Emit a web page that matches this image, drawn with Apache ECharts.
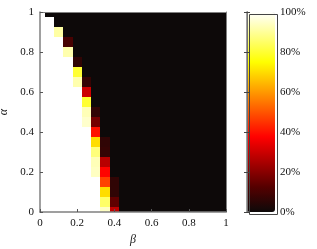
<!DOCTYPE html>
<html><head><meta charset="utf-8">
<script src="https://cdn.jsdelivr.net/npm/echarts@6/dist/echarts.min.js"></script>
<style>html,body{margin:0;padding:0;background:#fff}#c{width:317px;height:249px}</style>
</head><body><div id="c"></div>
<script>
// grid values
const betaValues  = [0,0.05,0.1,0.15,0.2,0.25,0.3,0.35,0.4,0.45,0.5,0.55,0.6,0.65,0.7,0.75,0.8,0.85,0.9,0.95,1];
const alphaValues = [0,0.05,0.1,0.15,0.2,0.25,0.3,0.35,0.4,0.45,0.5,0.55,0.6,0.65,0.7,0.75,0.8,0.85,0.9,0.95,1];
// success rate (%) per alpha row (index = alpha index), columns follow betaValues
const rateRows = [
  [100,100,100,100,100,100,100,94,28,0,0,0,0,0,0,0,0,0,0,0,0],   // α=0
  [100,100,100,100,100,100,100,85,14,0,0,0,0,0,0,0,0,0,0,0,0],   // 0.05
  [100,100,100,100,100,100,100,70,6,0,0,0,0,0,0,0,0,0,0,0,0],    // 0.10
  [100,100,100,100,100,100,100,47,6,0,0,0,0,0,0,0,0,0,0,0,0],    // 0.15
  [100,100,100,100,100,100,94,38,0,0,0,0,0,0,0,0,0,0,0,0,0],     // 0.20
  [100,100,100,100,100,100,93,27,0,0,0,0,0,0,0,0,0,0,0,0,0],     // 0.25
  [100,100,100,100,100,100,87,7,0,0,0,0,0,0,0,0,0,0,0,0,0],      // 0.30
  [100,100,100,100,100,100,70,6,0,0,0,0,0,0,0,0,0,0,0,0,0],      // 0.35
  [100,100,100,100,100,100,40,0,0,0,0,0,0,0,0,0,0,0,0,0,0],      // 0.40
  [100,100,100,100,100,95,17,0,0,0,0,0,0,0,0,0,0,0,0,0,0],       // 0.45
  [100,100,100,100,100,93,6,0,0,0,0,0,0,0,0,0,0,0,0,0,0],        // 0.50
  [100,100,100,100,100,80,0,0,0,0,0,0,0,0,0,0,0,0,0,0,0],        // 0.55
  [100,100,100,100,100,30,0,0,0,0,0,0,0,0,0,0,0,0,0,0,0],        // 0.60
  [100,100,100,100,92,7,0,0,0,0,0,0,0,0,0,0,0,0,0,0,0],          // 0.65
  [100,100,100,100,80,0,0,0,0,0,0,0,0,0,0,0,0,0,0,0,0],          // 0.70
  [100,100,100,100,6,0,0,0,0,0,0,0,0,0,0,0,0,0,0,0,0],           // 0.75
  [100,100,100,92,0,0,0,0,0,0,0,0,0,0,0,0,0,0,0,0,0],            // 0.80
  [100,100,100,10,0,0,0,0,0,0,0,0,0,0,0,0,0,0,0,0,0],            // 0.85
  [100,100,91,0,0,0,0,0,0,0,0,0,0,0,0,0,0,0,0,0,0],              // 0.90
  [100,100,0,0,0,0,0,0,0,0,0,0,0,0,0,0,0,0,0,0,0],               // 0.95
  [100,0,0,0,0,0,0,0,0,0,0,0,0,0,0,0,0,0,0,0,0]                  // 1.00
];
const axisTicks = [0,0.2,0.4,0.6,0.8,1];
const colorbarTicks = [0,20,40,60,80,100];

const hotColors = ['#0d0909','#550000','#aa0000','#ff0000','#ff5500','#ffaa00','#ffff00','#ffff80','#ffffff'];
const FONT = '"Liberation Serif", "DejaVu Serif", serif';

const cells = [];
alphaValues.forEach((a, j) => betaValues.forEach((b, i) => cells.push([b, a, rateRows[j][i]])));
const halfB = (betaValues[1] - betaValues[0]) / 2;
const halfA = (alphaValues[1] - alphaValues[0]) / 2;

function renderCell(params, api) {
  const b = api.value(0), a = api.value(1);
  const p0 = api.coord([b - halfB, a + halfA]);
  const p1 = api.coord([b + halfB, a - halfA]);
  const cs = params.coordSys;
  const x0 = Math.round(p0[0]), x1 = Math.round(p1[0]);
  const y0 = Math.round(p0[1]), y1 = Math.round(p1[1]);
  const r = echarts.graphic.clipRectByRect(
    {x: x0, y: y0, width: x1 - x0, height: y1 - y0},
    {x: Math.round(cs.x), y: Math.round(cs.y), width: Math.round(cs.width), height: Math.round(cs.height)});
  if (!r) return;
  return {type: 'rect', shape: r, style: {fill: api.visual('color')}};
}

const chart = echarts.init(document.getElementById('c'));
const lbl = {fontFamily: FONT, fontSize: 11, color: '#111'};
const lineGrey = {color: '#808080', width: 1.5};
chart.setOption({
  animation: false,
  backgroundColor: '#fff',
  grid: [
    {left: 40, top: 12, width: 186, height: 200, containLabel: false, outerBoundsMode: 'none'},
    {left: 247, top: 12, width: 28, height: 200, containLabel: false, outerBoundsMode: 'none'}
  ],
  xAxis: [
    {type: 'value', gridIndex: 0, min: axisTicks[0], max: axisTicks[axisTicks.length-1], interval: 0.2,
     name: 'β', nameLocation: 'middle', nameGap: 18,
     nameTextStyle: {fontFamily: FONT, fontStyle: 'italic', fontSize: 12, color: '#222'},
     axisLine: {lineStyle: lineGrey}, axisTick: {inside: true, length: 3, lineStyle: {color: '#555'}},
     axisLabel: Object.assign({margin: 6}, lbl), splitLine: {show: false}, z: 5},
    {type: 'value', gridIndex: 0, position: 'top', min: 0, max: 1,
     axisLine: {onZero: false, lineStyle: {color: '#808080', width: 1}}, axisTick: {show: false},
     axisLabel: {show: false}, splitLine: {show: false}, z: 5},
    {type: 'value', gridIndex: 1, show: false, min: 0, max: 1}
  ],
  yAxis: [
    {type: 'value', gridIndex: 0, min: axisTicks[0], max: axisTicks[axisTicks.length-1], interval: 0.2,
     name: 'α', nameLocation: 'middle', nameGap: 25, nameRotate: 90,
     nameTextStyle: {fontFamily: FONT, fontStyle: 'italic', fontSize: 12, color: '#222'},
     axisLine: {lineStyle: lineGrey}, axisTick: {inside: true, length: 3, lineStyle: {color: '#555'}},
     axisLabel: Object.assign({margin: 6}, lbl), splitLine: {show: false}, z: 5},
    {type: 'value', gridIndex: 0, position: 'right', min: 0, max: 1,
     axisLine: {onZero: false, lineStyle: {color: '#808080', width: 1}}, axisTick: {show: false},
     axisLabel: {show: false}, splitLine: {show: false}, z: 5},
    {type: 'value', gridIndex: 1, position: 'right', min: colorbarTicks[0], max: colorbarTicks[colorbarTicks.length-1], interval: 20,
     axisLine: {show: true, lineStyle: {color: '#444', width: 1}},
     axisTick: {inside: true, length: 3, lineStyle: {color: '#444'}},
     axisLabel: Object.assign({margin: 5, formatter: '{value}%'}, lbl), splitLine: {show: false}, z: 10},
    {type: 'value', gridIndex: 1, position: 'left', min: colorbarTicks[0], max: colorbarTicks[colorbarTicks.length-1], interval: 20,
     axisLine: {show: true, lineStyle: {color: '#808080', width: 1.5}},
     axisTick: {inside: true, length: 3, lineStyle: {color: '#444'}},
     axisLabel: {show: false}, splitLine: {show: false}, z: 10}
  ],
  visualMap: {
    type: 'continuous', min: 0, max: 100, dimension: 2, seriesIndex: 0,
    calculable: false, left: 247, top: 12, itemWidth: 28, itemHeight: 200, padding: 0,
    inRange: {color: hotColors}, z: 3
  },
  graphic: [{type: 'rect', left: 247, top: 12, shape: {width: 28, height: 200}, style: {fill: null, stroke: '#444', lineWidth: 1}, z: 9}],
  series: [{
    type: 'custom', xAxisIndex: 0, yAxisIndex: 0, data: cells, renderItem: renderCell,
    encode: {x: 0, y: 1}, z: 1
  }]
});
</script></body></html>
